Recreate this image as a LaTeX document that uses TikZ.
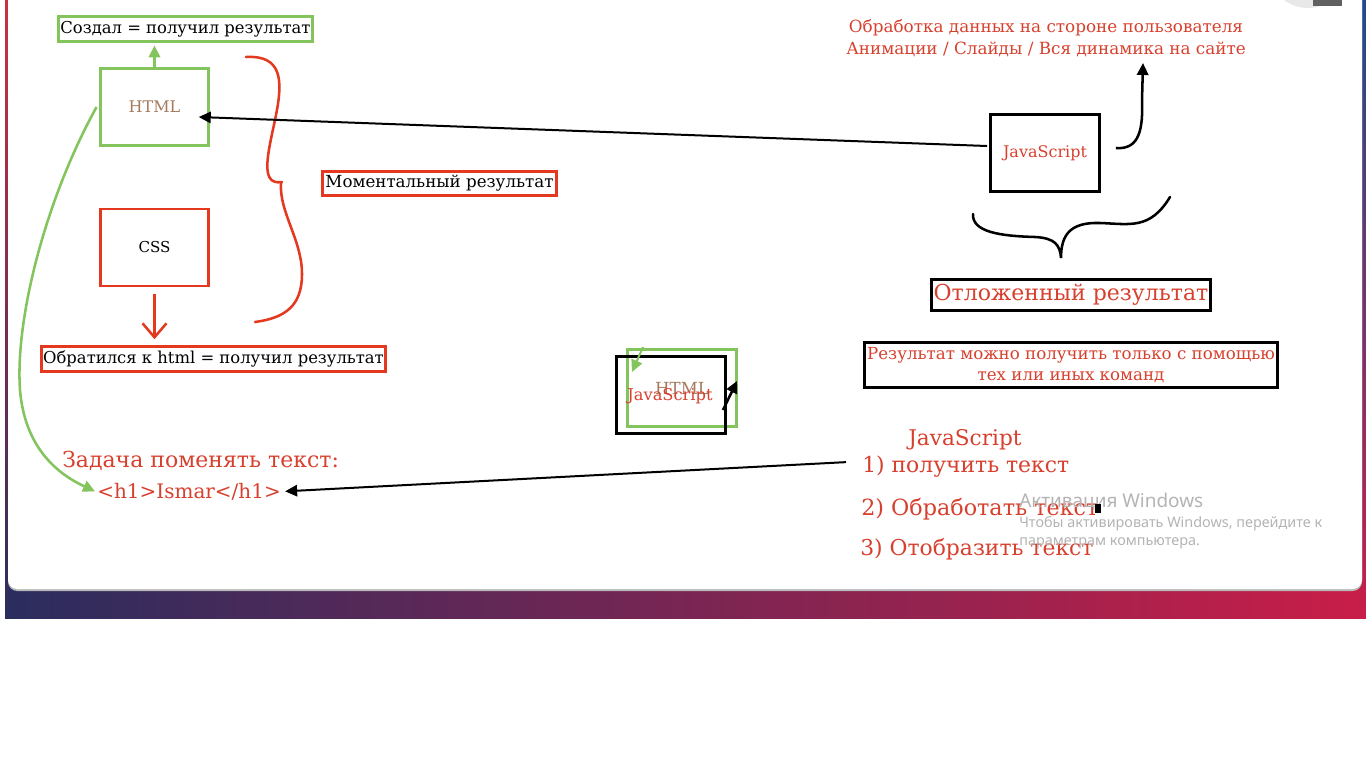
\documentclass[tikz,border=0pt]{standalone}
\usepackage{fontspec}
\setmainfont{DejaVu Serif}
\newfontfamily\winfont{Noto Sans}
\usetikzlibrary{arrows.meta}
\definecolor{grn}{HTML}{84C45C}
\definecolor{redl}{HTML}{E4381F}
\definecolor{redt}{HTML}{D8402E}
\definecolor{brn}{HTML}{A57A5C}
\definecolor{bgA}{HTML}{2A2D5E}
\definecolor{bgB}{HTML}{5A2760}
\definecolor{bgC}{HTML}{C81E48}
\definecolor{bgRed}{HTML}{CC3040}
\definecolor{bgBlue}{HTML}{1F4C8C}
\definecolor{bgOr}{HTML}{E08A35}
\definecolor{wm}{HTML}{B4B4B4}
\newcommand\fs[2]{\fontsize{#1}{#2}\selectfont}
\begin{document}
\begin{tikzpicture}[x=0.75pt,y=-0.75pt,
  gbox/.style={draw=grn,line width=1.9pt,inner sep=0pt,fill=white},
  rbox/.style={draw=redl,line width=1.9pt,inner sep=0pt,fill=white},
  kbox/.style={draw=black,line width=1.9pt,inner sep=0pt},
  lab/.style={inner sep=0pt},
  tri/.style={-{Triangle[length=9pt,width=8.5pt]}},
  wmtext/.style={inner sep=0pt,anchor=base west,text=wm,font=\winfont},
]
\useasboundingbox (0,0) rectangle (1366,768);
% background
\fill[white] (0,0) rectangle (1366,768);
\shade[left color=bgA, middle color=bgB, right color=bgC] (5,0) rectangle (1366,618);
\shade[top color=bgRed, middle color=bgB, bottom color=bgA] (5,0) rectangle (9,618);
\shade[top color=bgBlue, middle color=bgOr, bottom color=bgC] (1361,0) rectangle (1366,618);
\fill[gray!55, rounded corners=7pt] (8,-20) rectangle (1362,591);
\fill[white, rounded corners=7pt] (8,-20) rectangle (1362,589);
% top-right webcam fragment
\begin{scope}
\clip (1200,0) rectangle (1362,40);
\fill[gray!18] (1308,-32) circle[radius=40];
\fill[gray!75!black] (1313,-32) rectangle (1342,6);
\end{scope}

% left column
\node[gbox,minimum width=190.5pt,minimum height=18.75pt] (created) at (185.5,29) {\fs{12.3}{14}Создал = получил результат};
\node[gbox,minimum width=81pt,minimum height=58pt] (html) at (154.5,107) {\fs{12}{14}\color{brn}HTML};
\node[rbox,minimum width=81pt,minimum height=58pt] (css) at (154.5,247.5) {\fs{11.3}{13}CSS};
\node[rbox,minimum width=258pt,minimum height=18.75pt] (obr) at (213.5,359) {\fs{12.3}{14}Обратился к html = получил результат};
\node[rbox,minimum width=175.5pt,minimum height=18pt] (mom) at (439.5,183.5) {\fs{12.5}{14}Моментальный результат};

\draw[grn,line width=1.9pt,tri,shorten >=2pt] (html.north) -- (html.north |- created.south);
\draw[redl,line width=1.9pt,-{Straight Barb[length=10.5pt,width=18pt]},shorten <=5pt,shorten >=4.5pt] (css.south) -- (css.south |- obr.north);

% red brace
\draw[redl,line width=1.9pt,line cap=round] (246,57) .. controls (282,55) and (283,80) .. (276,115) .. controls (269,150) and (258,186) .. (282,182);
\draw[redl,line width=1.9pt,line cap=round] (281,183) .. controls (279,212) and (302,240) .. (302,274) .. controls (302,306) and (285,318) .. (255,322);

% task text
\node[lab,anchor=base west,text=redt] (task) at (62,467) {\fs{16.5}{19}Задача поменять текст:};
\node[lab,anchor=base west,text=redt] (h1) at (97,498) {\fs{15}{18}<h1>Ismar</h1>};
\draw[grn,line width=1.9pt,tri] ([xshift=-2pt]html.west) .. controls (45,200) and (15,320) .. (20,390) .. controls (25,450) and (60,475) .. ([xshift=-1.5pt]h1.west);

% JavaScript box and arrows
\node[kbox,minimum width=82pt,minimum height=58pt] (js) at (1045,153) {\fs{12}{14}\color{redt}JavaScript};
\draw[black,line width=1.5pt,tri] ([xshift=-1.5pt,yshift=5.25pt]js.west) -- ([xshift=-8.25pt,yshift=-7.5pt]html.east);
\node[lab,align=center,text=redt,font={\fs{12.6}{16}}] (client) at (1046,38) {Обработка данных на стороне пользователя\\Анимации / Слайды / Вся динамика на сайте};
\coordinate (cl) at (1143,63);
\draw[black,line width=1.9pt,tri] ([xshift=11.25pt,yshift=3.75pt]js.east) .. controls (1140,150) and (1143,128) .. (1142,100) -- (cl);

% black brace
\draw[black,line width=1.9pt,line cap=round] (973,214) .. controls (972,232) and (1000,236) .. (1035,237) .. controls (1055,238) and (1060,245) .. (1061,258) .. controls (1061,235) and (1070,222) .. (1100,223) .. controls (1130,224) and (1150,230) .. (1170,197);

\node[kbox,fill=white,minimum width=209pt,minimum height=23pt,font={\fs{16.5}{20}}] (late) at (1071,295) {\color{redt}Отложенный результат};
\node[kbox,fill=white,minimum width=310pt,minimum height=34pt,align=center,text=redt,font={\fs{12.5}{15.5}}] (only) at (1071,365) {Результат можно получить только с помощью\\тех или иных команд};

% small overlapping boxes
\node[gbox,fill=none,minimum width=82pt,minimum height=58pt] (mhtml) at (682,388) {};
\node[kbox,minimum width=82pt,minimum height=58pt] (mjs) at (671,395) {};
\node[lab,text=brn] (mhtmlt) at (682,388) {\fs{12.5}{14}HTML};
\node[lab,text=redt] (mjst) at (670,396) {\fs{12.2}{14}JavaScript};
\coordinate (ga) at (643,347);
\coordinate (gb) at (632,372);
\draw[grn,line width=1.5pt,tri] (ga) -- (gb);
\coordinate (ka) at (723,410);
\coordinate (kb) at (737,381);
\draw[black,line width=1.9pt,tri] (ka) -- (kb);

% steps
\node[lab,anchor=base west,text=redt] (jsl) at (908,445) {\fs{16.2}{19}JavaScript};
\node[lab,anchor=base west,text=redt] (s1) at (862,472) {\fs{16.4}{19}1) получить текст};
\node[lab,anchor=base west,text=redt] (s2) at (861,515) {\fs{16.7}{19}2) Обработать текст};
\node[lab,anchor=base west,text=redt] (s3) at (860,555) {\fs{16.4}{19}3) Отобразить текст};
\draw[black,line width=1.5pt,tri] ([xshift=-12pt,yshift=3pt]s1.west) -- ([xshift=3pt]h1.east);

% watermark
\node[wmtext] (w1) at (1019,507) {\fs{14.2}{16}Активация Windows};
\node[wmtext] (w2) at (1019,527) {\fs{10.8}{12}Чтобы активировать Windows, перейдите к};
\node[wmtext] (w3) at (1019,545) {\fs{10.8}{12}параметрам компьютера.};
\fill[black] (1095,504) rectangle (1101,513);
\end{tikzpicture}
\end{document}
